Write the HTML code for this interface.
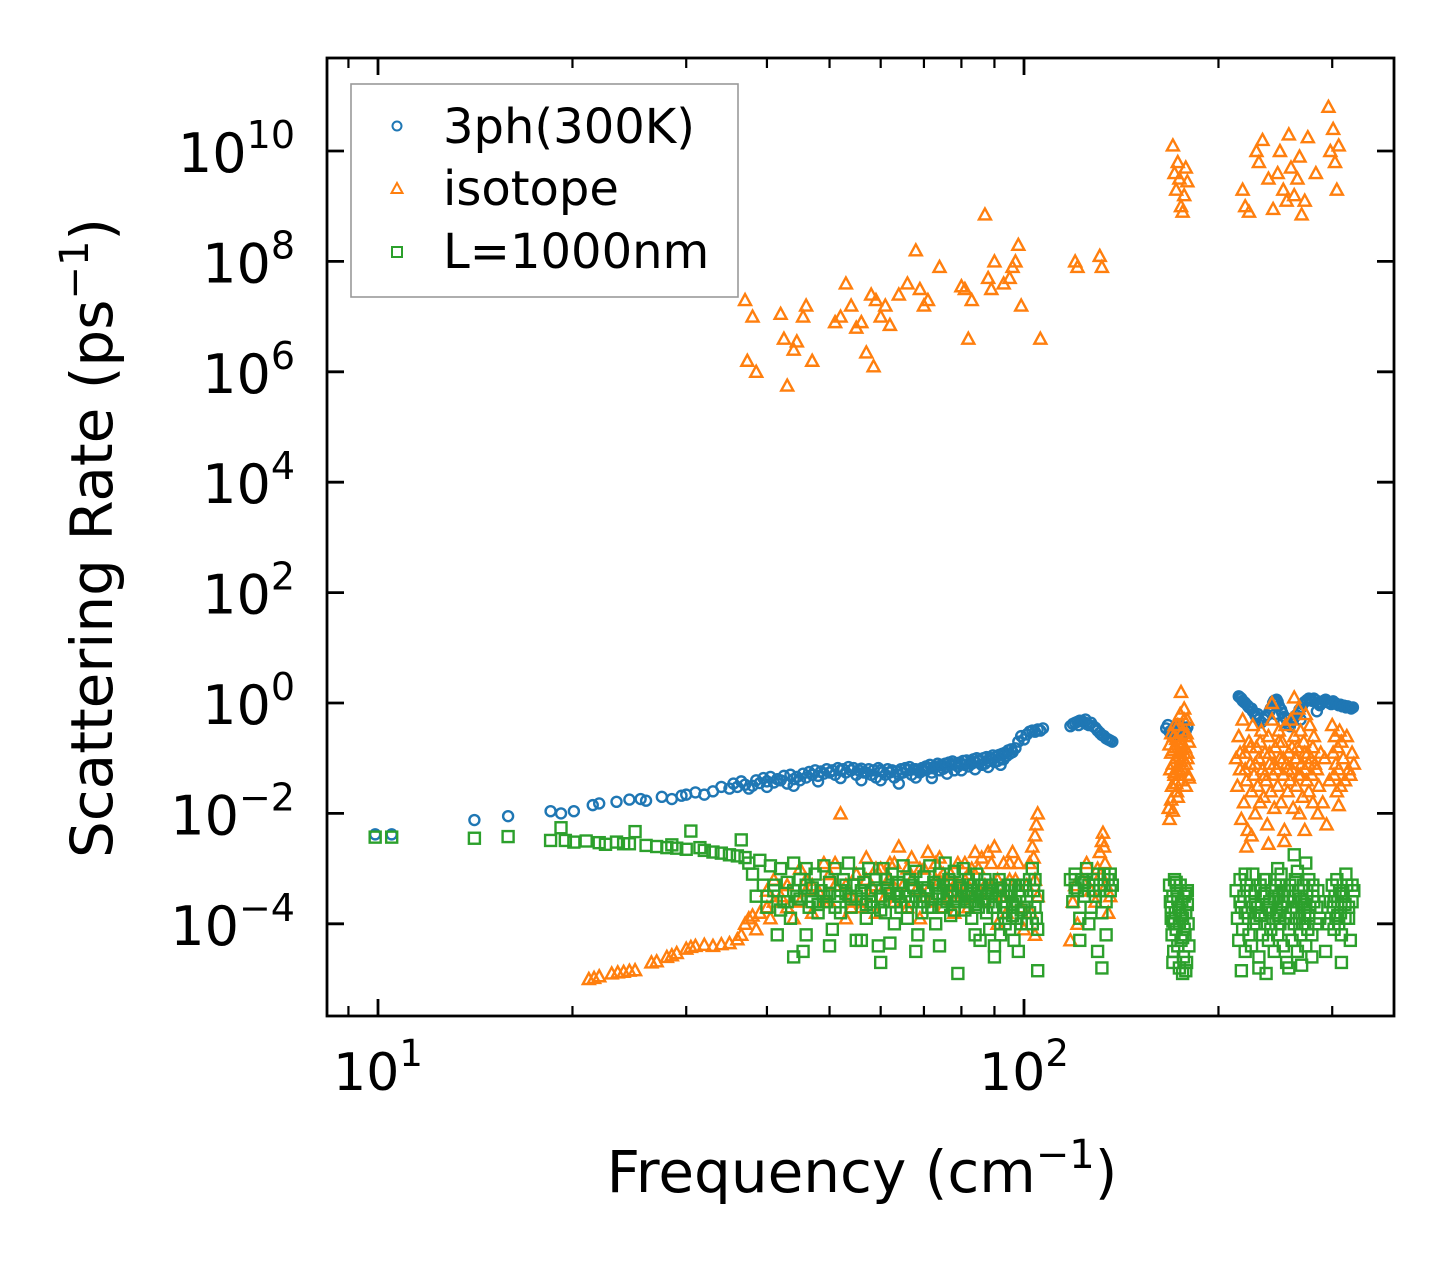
<!DOCTYPE html>
<html><head><meta charset="utf-8">
<style>
html,body{margin:0;padding:0;background:#fff;}
svg{display:block;font-family:"DejaVu Sans","Liberation Sans",sans-serif;}
</style></head>
<body>
<svg id="chart" width="1455" height="1265" viewBox="0 0 1455 1265" xmlns="http://www.w3.org/2000/svg">
<rect x="0" y="0" width="1455" height="1265" fill="#fff"/>
<g id="marks"></g>
<g id="axes"></g>
<text x="862" y="1192" font-size="58" text-anchor="middle">Frequency (cm<tspan font-size="40" dy="-24">−1</tspan><tspan dy="24">)</tspan></text>
<text transform="translate(112,538) rotate(-90)" font-size="58" text-anchor="middle">Scattering Rate (ps<tspan font-size="40" dy="-24">−1</tspan><tspan dy="24">)</tspan></text>
<g>
<rect x="351" y="84" width="387" height="213" fill="#fff" stroke="#999" stroke-width="1.6"/>
<circle cx="397" cy="126" r="4.5" fill="none" stroke="#1f77b4" stroke-width="2"/>
<text x="443" y="143" font-size="48">3ph(300K)</text>
<polygon points="397,183 402.5,193 391.5,193" fill="none" stroke="#ff7f0e" stroke-width="2"/>
<text x="443" y="205" font-size="48">isotope</text>
<rect x="392" y="247" width="10" height="10" fill="none" stroke="#2ca02c" stroke-width="2"/>
<text x="443" y="268" font-size="48">L=1000nm</text>
</g>
</svg>
<script>
// ---- data: [frequency (cm^-1), log10(scattering rate / ps^-1)] ----
const threePh = [
[9.9,-2.38],[10.5,-2.38],[14.1,-2.12],[15.9,-2.05],[18.5,-1.96],[19.2,-2.0],[20.1,-1.96],[21.5,-1.85],[22,-1.82],[23.4,-1.79],
[24.5,-1.75],[25.5,-1.74],[26,-1.77],[27.5,-1.7],[28.5,-1.74],[29.5,-1.68],[30,-1.66],[31,-1.62],[32,-1.66],[33,-1.6],
[34,-1.52],[35,-1.55],[36,-1.52],[37,-1.48],[37.5,-1.55],[38,-1.5],[39,-1.45],[40,-1.42],[41,-1.44],[42,-1.4],
[43,-1.46],[44,-1.38],[45,-1.4],[46,-1.35],[47,-1.3],[48,-1.32],[49,-1.28],[50,-1.26],[51,-1.3],[52,-1.22],
[53,-1.26],[54,-1.22],[55,-1.3],[56,-1.19],[57,-1.26],[58,-1.3],[59,-1.35],[60,-1.22],[61,-1.3],[62,-1.26],
[63,-1.35],[64,-1.3],[65,-1.26],[66,-1.22],[67,-1.3],[68,-1.35],[69,-1.26],[70,-1.22],[71,-1.19],[72,-1.26],
[73,-1.15],[74,-1.22],[75,-1.19],[76,-1.15],[77,-1.12],[78,-1.22],[79,-1.15],[80,-1.1],[81,-1.12],[82,-1.15],
[83,-1.1],[84,-1.07],[85,-1.05],[86,-1.12],[87,-1.1],[88,-1.05],[89,-1.0],[90,-1.07],[91,-1.05],[92,-1.0],
[93,-1.02],[94,-0.96],[95,-0.92],[96,-0.89],[97,-0.82],[98,-0.7],[99,-0.6],[100,-0.66],[101,-0.57],[102,-0.52],
[103,-0.5],[104,-0.52],[105,-0.48],[106,-0.5],[107,-0.46],
[35.5,-1.46],[36.5,-1.42],[38.5,-1.4],[39.5,-1.36],[40.5,-1.34],[41.5,-1.38],[42.5,-1.32],[43.5,-1.3],[44.5,-1.34],[45.5,-1.28],
[46.5,-1.25],[47.5,-1.22],[48.5,-1.24],[49.5,-1.2],[50.5,-1.22],[51.5,-1.18],[52.5,-1.2],[53.5,-1.16],[54.5,-1.18],[55.5,-1.22],
[56.5,-1.26],[57.5,-1.2],[58.5,-1.22],[59.5,-1.18],[60.5,-1.25],[61.5,-1.2],[62.5,-1.22],[63.5,-1.24],[64.5,-1.2],[65.5,-1.18],
[66.5,-1.16],[67.5,-1.2],[68.5,-1.22],[69.5,-1.18],[70.5,-1.15],[71.5,-1.12],[72.5,-1.16],[73.5,-1.1],[74.5,-1.12],[75.5,-1.1],
[76.5,-1.08],[77.5,-1.06],[78.5,-1.1],[79.5,-1.08],[80.5,-1.05],[81.5,-1.04],[82.5,-1.08],[83.5,-1.02],[84.5,-1.0],[85.5,-1.04],
[86.5,-1.0],[87.5,-0.98],[88.5,-1.0],[89.5,-0.95],[90.5,-0.98],[91.5,-0.94],[92.5,-0.92],[93.5,-0.9],[94.5,-0.86],[95.5,-0.84],
[40,-1.52],[44,-1.5],[48,-1.42],[52,-1.36],[56,-1.4],[60,-1.4],[64,-1.46],[68,-1.2],[72,-1.36],[76,-1.28],[80,-1.22],[84,-1.2],[88,-1.16],[92,-1.12],
[118,-0.42],[119,-0.38],[120,-0.36],[121,-0.34],[122,-0.32],[123,-0.33],[124,-0.35],[125,-0.38],[126,-0.4],[127,-0.36],
[128,-0.42],[129,-0.45],[130,-0.5],[131,-0.54],[132,-0.58],[133,-0.6],[134,-0.64],[135,-0.66],[136,-0.68],[137,-0.7],[121.5,-0.4],[124.5,-0.3],
[166,-0.46],[167,-0.4],[168,-0.52],[169,-0.5],[170,-0.6],[171,-0.45],[172,-0.56],[173,-0.5],[174,-0.6],[175,-0.42],[176,-0.48],[177,-0.55],[178,-0.5],[179,-0.44],
[215,0.12],[216,0.1],[217,0.08],[218,0.04],[219,0.02],[220,0.0],[222,-0.05],[223,-0.08],[225,-0.1],[226,-0.15],
[228,-0.22],[229,-0.26],[231,-0.3],[233,-0.35],[235,-0.3],[236,-0.25],[238,-0.22],[240,-0.15],[241,-0.1],[243,0.0],
[244,0.04],[246,0.06],[247,0.02],[248,-0.05],[250,-0.12],[251,-0.18],[253,-0.25],[255,-0.3],[256,-0.38],[258,-0.42],
[259,-0.35],[261,-0.3],[262,-0.26],[264,-0.22],[266,-0.18],[267,-0.12],[269,-0.08],[270,-0.02],[272,0.02],[274,0.05],
[276,0.08],[278,0.06],[279,0.04],[281,0.08],[283,0.05],[285,0.0],[287,-0.04],[289,0.0],[291,0.04],[293,0.06],
[295,0.02],[297,0.0],[299,-0.02],[301,0.03],[303,0.0],[305,-0.02],[307,-0.04],[309,-0.03],[311,-0.06],[313,-0.05],
[315,-0.08],[317,-0.06],[319,-0.08],[321,-0.1],[323,-0.08],[230,-0.2],[245,-0.2],[252,-0.35],[268,-0.3],[284,-0.15]
];
const isotope = [
// high branch
[37,7.3],[37.3,6.2],[38,7.0],[38.5,6.0],[42,7.05],[42.5,6.6],[43,5.75],[44,6.4],[44.5,6.55],[45.5,7.0],
[46,7.2],[47,6.2],[51,6.9],[52,7.0],[53,7.6],[54,7.2],[55,6.8],[56,6.9],[57,6.35],[58,7.4],
[58.5,6.1],[59,7.3],[60,7.0],[61,7.2],[62,6.85],[64,7.4],[66,7.6],[68,8.2],[69,7.5],[70,7.2],
[71,7.3],[74,7.9],[80,7.55],[81,7.5],[82,6.6],[83,7.3],[87,8.85],[88,7.7],[89,7.5],[90,8.0],
[93,7.6],[95,7.7],[96,7.9],[97,8.0],[98,8.3],[99,7.2],[106,6.6],[120,8.0],[121,7.9],[131,8.1],[132,7.9],
[170,10.1],[171,9.6],[172,9.3],[173,9.8],[174,9.5],[175,9.0],[176,8.9],[177,9.2],[178,9.7],[179,9.45],
[218,9.3],[220,9.0],[223,8.9],[229,10.0],[231,9.8],[234,10.2],[239,9.5],[243,8.95],[247,9.6],[249,10.0],
[252,9.3],[255,9.1],[257,10.3],[259,9.7],[262,9.2],[265,9.5],[267,9.9],[269,8.85],[272,9.1],[275,10.25],
[283,9.6],[296,10.8],[298,10.0],[301,10.4],[303,9.8],[305,9.3],[307,10.1],
// low line
[21.2,-5.0],[21.6,-4.98],[22,-4.95],[23,-4.9],[23.5,-4.88],[24,-4.87],[24.5,-4.85],[25,-4.84],[26.5,-4.7],[27,-4.68],
[28,-4.6],[28.5,-4.57],[29,-4.53],[30,-4.45],[30.5,-4.42],[31,-4.4],[32,-4.38],[33,-4.4],[34,-4.37],[35,-4.35],
[36,-4.28],[36.5,-4.2],[37,-4.0],[37.5,-3.9],[38,-3.85],[38.5,-4.1],[39,-3.8],[40,-3.7],[40.5,-3.9],[41,-3.6],
// low cluster 40-105
[42,-3.5],[43,-3.3],[44,-3.9],[45,-3.6],[46,-3.2],[47,-3.8],[48,-3.4],[49,-2.9],[50,-3.6],[51,-3.3],
[52,-2.0],[53,-3.9],[54,-3.5],[55,-3.1],[56,-3.7],[57,-2.8],[58,-3.3],[59,-3.8],[60,-3.0],[61,-3.5],
[62,-2.9],[63,-3.6],[64,-2.6],[65,-3.3],[66,-3.7],[67,-2.8],[68,-3.4],[69,-3.9],[70,-3.0],[71,-2.7],
[72,-3.6],[73,-3.2],[74,-2.8],[75,-3.7],[76,-3.3],[77,-3.1],[78,-3.8],[79,-2.9],[80,-3.5],[81,-3.2],
[82,-3.7],[83,-3.0],[84,-2.7],[85,-3.4],[86,-2.8],[87,-3.6],[88,-2.7],[89,-3.3],[90,-2.6],[91,-4.0],
[92,-3.5],[93,-2.9],[94,-3.8],[95,-3.2],[96,-2.7],[97,-3.6],[98,-2.9],[99,-3.7],[100,-4.1],[101,-3.3],
[102,-2.9],[103,-2.6],[104,-2.4],[104.5,-2.2],[105,-2.0],[103.5,-2.8],[104,-3.2],[105,-3.5],[102.5,-3.8],[104,-4.2],
[46,-3.4],[50,-3.1],[54,-3.7],[58,-3.5],[62,-3.2],[66,-3.0],[70,-3.5],[74,-3.2],[78,-3.3],[82,-3.1],
[40,-3.4],[41,-3.2],[43,-3.7],[45,-3.0],[47,-3.3],[49,-3.6],[51,-2.9],[53,-3.3],[55,-3.6],[57,-3.2],
[59,-3.0],[61,-3.3],[63,-2.9],[65,-3.6],[67,-3.2],[69,-3.0],[71,-3.4],[73,-2.9],[75,-3.1],[77,-3.5],
[79,-3.3],[81,-2.9],[83,-3.5],[85,-3.0],[87,-3.3],[89,-2.9],[91,-3.2],[93,-3.5],[95,-2.9],[97,-3.2],
// 118-138
[118,-4.3],[119,-3.6],[120,-3.3],[121,-4.0],[123,-3.2],[125,-2.9],[127,-3.4],[130,-3.0],[131,-2.7],[132,-2.5],
[132.5,-2.35],[133,-2.6],[134,-3.3],[135,-3.8],[136,-3.5],[133.5,-2.9],[131.5,-3.1],[129,-3.6],
// 166-182
[168,-0.75],[168.5,-1.2],[169,-0.9],[169.5,-1.5],[170,-1.1],[170.5,-0.6],[171,-1.3],[171.5,-0.8],[172,-1.0],[172.5,-1.6],
[173,-0.4],[173.5,-0.9],[174,-1.2],[174.5,-0.2],[175,-0.7],[175.5,-1.4],[176,-0.5],[176.5,-1.0],[177,-0.3],[177.5,-0.8],
[178,-1.1],[178.5,-0.55],[179,-0.9],[179.5,-1.3],[180,-0.7],[167.5,-1.9],[168,-2.1],[169,-1.75],[170,-1.95],[172,-1.45],
[174,-1.3],[176,-1.2],[178,-1.5],[180,-1.35],[171,-0.4],[175,0.2],[177,-0.1],[173,-1.7],[169,-0.55],[179,-0.3],
[170,-0.85],[172,-0.65],[174,-0.95],[176,-0.75],[178,-0.6],[173,-1.15],[175,-1.05],[177,-0.9],[171,-1.25],[179,-1.0],
// 212-325
[213,-1.0],[214,-1.5],[215,-0.6],[216,-1.2],[217,-2.1],[218,-0.3],[219,-1.8],[220,-0.9],[221,-1.4],[222,-2.3],
[223,-0.7],[224,-1.1],[225,-1.6],[226,-0.4],[227,-1.3],[228,-2.0],[229,-0.8],[230,-1.5],[231,-1.0],[232,-1.8],
[233,-0.5],[234,-1.2],[235,-1.7],[236,-0.9],[237,-1.4],[238,-2.2],[239,-0.6],[240,-1.1],[241,-1.6],[242,-0.3],
[243,-1.3],[244,-1.9],[245,-0.8],[246,-1.2],[247,-1.5],[248,-0.5],[249,-1.0],[250,-1.8],[251,-0.7],[252,-1.3],
[253,-2.3],[254,-0.4],[255,-1.1],[256,-1.6],[257,-0.9],[258,-1.4],[259,-0.3],[260,-1.2],[261,-1.9],[262,-0.6],
[263,-1.0],[264,-1.5],[265,-0.8],[266,-1.3],[267,-2.0],[268,-0.5],[269,-1.1],[270,-1.7],[271,-0.7],[272,-1.2],
[273,-0.2],[274,-1.4],[275,-0.9],[276,-1.6],[277,-0.4],[278,-1.0],[279,-1.3],[280,-1.8],[281,-0.6],[282,-1.1],
[300,-0.4],[301,-0.9],[302,-1.3],[303,-0.6],[304,-1.1],[305,-1.6],[306,-0.8],[307,-1.2],[308,-0.5],[309,-1.5],
[310,-0.7],[312,-1.0],[314,-1.4],[316,-0.6],[318,-1.2],[320,-1.3],[322,-0.9],[324,-1.1],[286,-1.5],[290,-1.8],[294,-2.2],[297,-1.4],
[262,0.1],[242,0.0],[221,-2.6],[225,-2.4],[239,-2.55],[253,-2.5],[272,-2.3],[285,-2.0],[307,-1.85],[266,-0.1],
[216,-0.9],[220,-1.2],[224,-0.8],[228,-1.1],[232,-0.7],[236,-1.3],[240,-0.9],[244,-1.1],[248,-0.7],[252,-1.0],
[256,-1.2],[260,-0.8],[264,-1.0],[268,-1.3],[272,-0.9],[276,-1.1],[280,-0.8],[284,-1.2],[288,-0.9],[292,-1.0]
];
const boundary = [
// low-frequency flat branch
[9.9,-2.43],[10.5,-2.43],[14.1,-2.45],[15.9,-2.42],[18.5,-2.49],[19.2,-2.26],[19.5,-2.49],[20.1,-2.52],[21,-2.5],[22,-2.53],
[22.5,-2.56],[23.4,-2.52],[24,-2.55],[24.5,-2.55],[25,-2.33],[26,-2.58],[27,-2.6],[28,-2.62],[28.5,-2.57],[29,-2.63],
[30,-2.65],[30.5,-2.32],[31.5,-2.62],[32,-2.67],[33,-2.7],[34,-2.72],[35,-2.75],[36,-2.77],[36.5,-2.48],[37,-2.8],
// mid cluster 37-107
[37.5,-2.9],[38,-3.1],[38.5,-3.5],[39,-2.85],[39.5,-3.3],[40,-3.7],[40.5,-2.95],[41,-3.4],[41.5,-4.2],[42,-3.0],
[42.5,-3.6],[43,-3.25],[43.5,-3.9],[44,-2.9],[44.5,-3.5],[45,-3.2],[45.5,-4.5],[46,-3.0],[46.5,-3.7],[47,-3.35],
[47.5,-3.1],[48,-3.8],[48.5,-3.4],[49,-2.95],[49.5,-3.6],[50,-3.25],[50.5,-4.1],[51,-3.0],[51.5,-3.5],[52,-3.8],
[52.5,-3.2],[53,-3.45],[53.5,-2.9],[54,-3.7],[54.5,-3.3],[55,-4.3],[55.5,-3.1],[56,-3.55],[56.5,-3.25],[57,-3.9],
[57.5,-3.0],[58,-3.4],[58.5,-3.7],[59,-3.2],[59.5,-4.4],[60,-3.5],[60.5,-3.0],[61,-3.8],[61.5,-3.35],[62,-3.6],
[62.5,-3.1],[63,-4.0],[63.5,-3.45],[64,-3.25],[64.5,-3.7],[65,-2.95],[65.5,-3.5],[66,-3.9],[66.5,-3.2],[67,-3.6],
[67.5,-3.35],[68,-3.05],[68.5,-4.2],[69,-3.5],[69.5,-3.8],[70,-3.15],[70.5,-3.4],[71,-3.7],[71.5,-2.95],[72,-3.55],
[72.5,-3.25],[73,-4.0],[73.5,-3.45],[74,-3.1],[74.5,-3.7],[75,-3.3],[75.5,-2.9],[76,-3.6],[76.5,-3.2],[77,-3.85],
[77.5,-3.4],[78,-3.05],[78.5,-3.6],[79,-4.9],[79.5,-3.3],[80,-3.5],[80.5,-3.0],[81,-3.75],[81.5,-3.4],[82,-3.2],
[82.5,-3.6],[83,-3.9],[83.5,-3.3],[84,-3.5],[84.5,-3.1],[85,-3.7],[85.5,-4.3],[86,-3.4],[86.5,-3.6],[87,-3.2],
[87.5,-3.8],[88,-3.45],[88.5,-4.1],[89,-3.3],[89.5,-3.7],[90,-4.4],[90.5,-3.5],[91,-3.9],[91.5,-3.2],[92,-4.2],
[92.5,-3.6],[93,-3.4],[93.5,-4.0],[94,-3.7],[94.5,-3.3],[95,-4.1],[95.5,-3.5],[96,-3.85],[96.5,-4.3],[97,-3.6],
[97.5,-3.9],[98,-4.5],[98.5,-3.5],[99,-4.0],[100,-3.7],[100.5,-3.3],[101,-3.6],[102,-3.2],[103,-3.0],[103.5,-3.4],
[104,-3.7],[104.5,-3.9],[105,-4.1],[105,-3.5],[104,-3.2],[103,-4.0],[102,-3.8],[105,-4.85],[101,-4.0],[99.5,-3.3],
[40,-3.5],[43,-3.6],[46,-3.3],[49,-3.5],[52,-3.4],[55,-3.5],[58,-3.6],[61,-3.2],[64,-3.5],[67,-3.3],
[70,-3.6],[73,-3.3],[76,-3.4],[79,-3.5],[82,-3.5],[85,-3.3],[88,-3.6],[91,-3.4],[94,-3.5],[97,-3.3],
[41,-3.3],[44,-3.4],[47,-3.6],[50,-3.45],[53,-3.3],[56,-3.4],[59,-3.35],[62,-3.45],[65,-3.3],[68,-3.5],
[71,-3.35],[74,-3.45],[77,-3.3],[80,-3.35],[83,-3.45],[86,-3.3],[89,-3.45],[92,-3.35],[95,-3.3],[98,-3.4],
[42,-3.75],[45,-3.55],[48,-3.65],[51,-3.7],[54,-3.55],[57,-3.65],[60,-3.75],[63,-3.6],[66,-3.7],[69,-3.6],
[72,-3.7],[75,-3.55],[78,-3.75],[81,-3.6],[84,-3.65],[87,-3.55],[90,-3.7],[93,-3.8],[96,-3.65],[99,-3.75],
[44,-4.6],[50,-4.4],[56,-4.3],[62,-4.35],[68,-4.5],[74,-4.4],[84,-4.2],[90,-4.6],[60,-4.7],[46,-4.2],
// 118-138
[118,-3.2],[119,-3.6],[120,-3.1],[121,-3.4],[122,-3.9],[123,-3.2],[124,-3.5],[125,-3.0],[126,-3.3],[127,-3.7],
[128,-3.2],[129,-3.5],[130,-3.1],[131,-3.4],[132,-3.8],[133,-3.3],[134,-3.6],[135,-3.2],[136,-3.4],[122,-4.3],
[126,-4.0],[130,-4.5],[132,-4.8],[134,-4.2],[136,-3.1],[120,-3.35],[124,-3.25],[128,-3.4],[133,-3.1],[137,-3.3],
// 166-182
[168,-3.3],[168.5,-3.6],[169,-3.9],[169.5,-4.2],[170,-3.5],[170.5,-4.5],[171,-3.2],[171.5,-3.8],[172,-4.1],[172.5,-3.4],
[173,-4.4],[173.5,-3.7],[174,-4.0],[174.5,-3.3],[175,-4.3],[175.5,-3.6],[176,-3.9],[176.5,-4.6],[177,-3.5],[177.5,-4.2],
[178,-3.8],[178.5,-4.7],[179,-3.4],[179.5,-4.0],[180,-4.4],[174,-4.8],[176,-4.9],[178,-4.85],[170,-4.7],[172,-3.25],
[169,-3.7],[171,-4.0],[173,-3.55],[175,-3.85],[177,-4.1],[179,-3.65],[170,-3.95],[174,-3.75],[176,-4.25],[178,-3.45],
// 212-325
[213,-3.4],[214,-3.9],[215,-4.3],[216,-3.2],[217,-3.7],[218,-4.1],[219,-3.5],[220,-4.5],[221,-3.3],[222,-3.8],
[223,-4.2],[224,-3.6],[225,-4.4],[226,-3.1],[227,-3.9],[228,-3.4],[229,-4.0],[230,-3.7],[231,-4.6],[232,-3.3],
[233,-3.8],[234,-4.2],[235,-3.5],[236,-4.0],[237,-3.2],[238,-3.7],[239,-4.3],[240,-3.6],[241,-4.1],[242,-3.4],
[243,-3.9],[244,-4.5],[245,-3.3],[246,-3.8],[247,-4.2],[248,-3.5],[249,-4.0],[250,-3.1],[251,-3.7],[252,-4.4],
[253,-3.4],[254,-3.9],[255,-4.7],[256,-3.6],[257,-4.1],[258,-3.3],[259,-3.8],[260,-4.3],[261,-3.5],[262,-4.0],
[263,-3.2],[264,-3.7],[265,-4.5],[266,-3.4],[267,-3.9],[268,-4.2],[269,-3.6],[270,-4.0],[271,-3.3],[272,-3.8],
[273,-4.4],[274,-3.5],[275,-4.1],[276,-3.2],[277,-3.7],[279,-4.2],[281,-3.6],[283,-4.0],[285,-3.4],[287,-3.9],
[300,-3.3],[301,-3.7],[302,-4.1],[303,-3.5],[304,-3.9],[305,-3.2],[306,-3.6],[307,-4.0],[308,-3.4],[309,-3.8],
[310,-4.2],[312,-3.5],[314,-3.9],[316,-3.3],[318,-3.7],[320,-4.3],[322,-3.6],[324,-3.4],[293,-4.5],[296,-4.0],[298,-3.6],
[217,-4.85],[231,-4.8],[237,-4.9],[257,-4.8],[269,-4.75],[279,-4.6],[310,-4.7],[247,-3.0],[262,-2.75],[273,-2.9],
[216,-3.6],[220,-3.8],[224,-3.4],[228,-3.65],[232,-3.85],[236,-3.45],[240,-3.75],[244,-3.55],[248,-3.85],[252,-3.6],
[256,-3.4],[260,-3.7],[264,-3.9],[268,-3.55],[272,-3.65],[276,-3.85],[280,-3.5],[284,-3.7],[302,-3.6],[306,-3.85],
[310,-3.45],[314,-3.65],[318,-3.9],[322,-3.3],[220,-3.1],[235,-3.2],[250,-3.3],[265,-3.05],[280,-3.3],[315,-3.1]
];
const xMajorTicks = [10, 100];
const xMajorLabels = ["1", "2"];
const xMinorTicks = [9, 20, 30, 40, 50, 60, 70, 80, 90, 200, 300, 400];
const yMajorTicks = [-4, -2, 0, 2, 4, 6, 8, 10];

// ---- axis functions ----
const PL = 327, PR = 1394, PT = 58, PB = 1016;
const X10 = 378, XDEC = 646;
const Y0 = 703, YDEC = 55.2;
function xs(f){ return X10 + (Math.log10(f) - 1) * XDEC; }
function ys(lr){ return Y0 - lr * YDEC; }

const NS = "http://www.w3.org/2000/svg";
const marks = document.getElementById("marks");
const axes = document.getElementById("axes");
function mk(tag, attrs, parent){
  const e = document.createElementNS(NS, tag);
  for (const k in attrs) e.setAttribute(k, attrs[k]);
  parent.appendChild(e);
  return e;
}

const clip = mk("clipPath", {id:"pc"}, marks);
mk("rect", {x:PL, y:PT, width:PR-PL, height:PB-PT}, clip);
const g1 = mk("g", {"clip-path":"url(#pc)"}, marks);


const g2 = mk("g", {"clip-path":"url(#pc)"}, marks);


const g3 = mk("g", {"clip-path":"url(#pc)"}, marks);



threePh.forEach(d => {
  const c = mk("circle", {cx:xs(d[0]), cy:ys(d[1]), r:5, fill:"none", stroke:"#1f77b4", "stroke-width":2.4}, g1);
  
  
});
isotope.forEach(d => {
  const x = xs(d[0]), y = ys(d[1]);
  const p = mk("polygon", {points:`${x},${y-6} ${x+6},${y+5} ${x-6},${y+5}`, fill:"none", stroke:"#ff7f0e", "stroke-width":2.4}, g2);
  
  
});
boundary.forEach(d => {
  const x = xs(d[0]), y = ys(d[1]);
  const r = mk("rect", {x:x-5.5, y:y-5.5, width:11, height:11, fill:"none", stroke:"#2ca02c", "stroke-width":2.4}, g3);
  
  
});

// frame
const frame = mk("rect", {x:PL, y:PT, width:PR-PL, height:PB-PT, fill:"none", stroke:"#000", "stroke-width":2.8}, axes);



// x ticks
xMajorTicks.forEach((t, i) => {
  const x = xs(t);
  const a = mk("line", {x1:x, x2:x, y1:PB, y2:PB-17, stroke:"#000", "stroke-width":2.8}, axes);
  
  
  const b = mk("line", {x1:x, x2:x, y1:PT, y2:PT+17, stroke:"#000", "stroke-width":2.8}, axes);
  
  
  const tx = mk("text", {x:x, y:1090, "font-size":52, "text-anchor":"middle"}, axes);
  
  
  tx.appendChild(document.createTextNode("10"));
  const sp = mk("tspan", {"font-size":37, dy:-24}, tx);
  sp.textContent = xMajorLabels[i];
});
xMinorTicks.forEach(t => {
  const x = xs(t);
  if (x < PL || x > PR) return;
  const a = mk("line", {x1:x, x2:x, y1:PB, y2:PB-10, stroke:"#000", "stroke-width":2.2}, axes);
  
  
  const b = mk("line", {x1:x, x2:x, y1:PT, y2:PT+10, stroke:"#000", "stroke-width":2.2}, axes);
  
  
});

// y ticks
yMajorTicks.forEach(t => {
  const y = ys(t);
  const a = mk("line", {x1:PL, x2:PL+17, y1:y, y2:y, stroke:"#000", "stroke-width":2.8}, axes);
  
  
  const b = mk("line", {x1:PR, x2:PR-17, y1:y, y2:y, stroke:"#000", "stroke-width":2.8}, axes);
  
  
  const tx = mk("text", {x:295, y:y+21, "font-size":54, "text-anchor":"end"}, axes);
  
  
  tx.appendChild(document.createTextNode("10"));
  const sp = mk("tspan", {"font-size":38, dy:-24}, tx);
  sp.textContent = (t < 0 ? "−" + (-t) : String(t));
});
</script>
</body></html>
